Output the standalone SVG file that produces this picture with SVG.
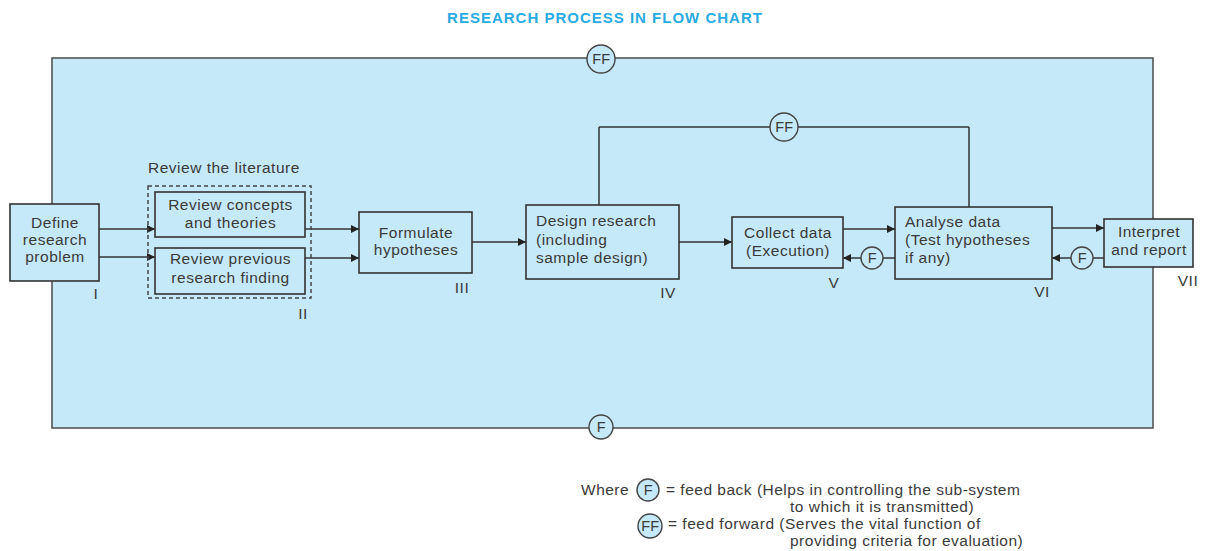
<svg xmlns="http://www.w3.org/2000/svg" width="1205" height="551" viewBox="0 0 1205 551">
<style>
text{font-family:"Liberation Sans",Arial,sans-serif;font-size:15.5px;letter-spacing:0.5px;fill:#3a3a3a}
.c{text-anchor:middle}
.box{fill:#c6e9f9;stroke:#333;stroke-width:1.6}
.ln{fill:none;stroke:#333;stroke-width:1.5}
.circ{fill:#c6e9f9;stroke:#444;stroke-width:1.4}
.ct{font-size:14.5px;letter-spacing:0.3px}
.title{font-weight:bold;fill:#29aae2;font-size:15px;letter-spacing:1px}
</style>
<defs>
<marker id="ah" viewBox="0 0 10 10" refX="10" refY="5" markerWidth="8" markerHeight="8" markerUnits="userSpaceOnUse" orient="auto">
<path d="M0,0 L10,5 L0,10 z" fill="#222"/>
</marker>
</defs>
<rect width="1205" height="551" fill="#fff"/>
<text class="title c" x="605" y="23">RESEARCH PROCESS IN FLOW CHART</text>

<g id="frame">
<rect x="52" y="58" width="1101" height="370" fill="#c6e9f9" stroke="#555" stroke-width="1.6"/>
</g>

<g id="connectors">
<line class="ln" x1="599" y1="205" x2="599" y2="127"/>
<line class="ln" x1="599" y1="127" x2="969" y2="127"/>
<line class="ln" x1="969" y1="127" x2="969" y2="207"/>
<line class="ln" x1="99" y1="229" x2="155" y2="229" marker-end="url(#ah)"/>
<line class="ln" x1="99" y1="257" x2="155" y2="257" marker-end="url(#ah)"/>
<line class="ln" x1="305" y1="229" x2="359" y2="229" marker-end="url(#ah)"/>
<line class="ln" x1="305" y1="258" x2="359" y2="258" marker-end="url(#ah)"/>
<line class="ln" x1="472" y1="242" x2="526" y2="242" marker-end="url(#ah)"/>
<line class="ln" x1="679" y1="242" x2="732" y2="242" marker-end="url(#ah)"/>
<line class="ln" x1="843" y1="229" x2="895" y2="229" marker-end="url(#ah)"/>
<line class="ln" x1="1052" y1="228" x2="1104" y2="228" marker-end="url(#ah)"/>
<line class="ln" x1="895" y1="258" x2="883" y2="258"/>
<line class="ln" x1="861" y1="258" x2="843" y2="258" marker-end="url(#ah)"/>
<line class="ln" x1="1104" y1="258" x2="1093" y2="258"/>
<line class="ln" x1="1071" y1="258" x2="1052" y2="258" marker-end="url(#ah)"/>
</g>

<g id="ff-top">
<circle class="circ" cx="601" cy="59" r="14"/>
<text class="c ct" x="601.3" y="64">FF</text>
</g>
<g id="ff-mid">
<circle class="circ" cx="784" cy="127" r="14"/>
<text class="c ct" x="784.3" y="132">FF</text>
</g>
<g id="f-bottom">
<circle class="circ" cx="601" cy="427" r="12"/>
<text class="c ct" x="601.3" y="432">F</text>
</g>
<g id="f-5">
<circle class="circ" cx="872" cy="258" r="11"/>
<text class="c ct" x="872.3" y="263">F</text>
</g>
<g id="f-6">
<circle class="circ" cx="1082" cy="258" r="11"/>
<text class="c ct" x="1082.3" y="263">F</text>
</g>

<g id="n1">
<rect class="box" x="10" y="204" width="89" height="77"/>
<text class="c" x="55" y="228">Define</text>
<text class="c" x="55" y="245">research</text>
<text class="c" x="55" y="262">problem</text>
<text class="c" x="96" y="299">I</text>
</g>

<g id="n2">
<text x="148" y="173">Review the literature</text>
<rect x="148" y="186" width="163" height="112" fill="none" stroke="#444" stroke-width="1.5" stroke-dasharray="4,3"/>
<text class="c" x="303" y="319">II</text>
</g>
<g id="n2a">
<rect class="box" x="155" y="192" width="150" height="45"/>
<text class="c" x="230.5" y="210">Review concepts</text>
<text class="c" x="230.5" y="228">and theories</text>
</g>
<g id="n2b">
<rect class="box" x="155" y="248" width="150" height="46"/>
<text class="c" x="230.5" y="264">Review previous</text>
<text class="c" x="230.5" y="283">research finding</text>
</g>

<g id="n3">
<rect class="box" x="359" y="212" width="113" height="61"/>
<text class="c" x="416" y="238">Formulate</text>
<text class="c" x="416" y="255">hypotheses</text>
<text class="c" x="462" y="293">III</text>
</g>

<g id="n4">
<rect class="box" x="526" y="205" width="153" height="74"/>
<text x="536" y="226">Design research</text>
<text x="536" y="245">(including</text>
<text x="536" y="263">sample design)</text>
<text class="c" x="668" y="298">IV</text>
</g>

<g id="n5">
<rect class="box" x="732" y="217" width="111" height="51"/>
<text class="c" x="788" y="238">Collect data</text>
<text class="c" x="788" y="256">(Execution)</text>
<text class="c" x="834" y="288">V</text>
</g>

<g id="n6">
<rect class="box" x="895" y="207" width="157" height="72"/>
<text x="905" y="227">Analyse data</text>
<text x="905" y="245">(Test hypotheses</text>
<text x="905" y="263">if any)</text>
<text class="c" x="1042" y="297">VI</text>
</g>

<g id="n7">
<rect class="box" x="1104" y="219" width="89" height="48"/>
<text class="c" x="1149" y="237">Interpret</text>
<text class="c" x="1149" y="255">and report</text>
<text class="c" x="1188" y="286">VII</text>
</g>

<g id="legend">
<text x="581" y="495">Where</text>
<circle class="circ" cx="648" cy="490" r="11"/>
<text class="c ct" x="648.3" y="495">F</text>
<text x="666" y="495">= feed back (Helps in controlling the sub-system</text>
<text x="790" y="512">to which it is transmitted)</text>
<circle class="circ" cx="650" cy="526" r="12"/>
<text class="c ct" x="650.3" y="531">FF</text>
<text x="668" y="529">= feed forward (Serves the vital function of</text>
<text x="790" y="546">providing criteria for evaluation)</text>
</g>
</svg>
